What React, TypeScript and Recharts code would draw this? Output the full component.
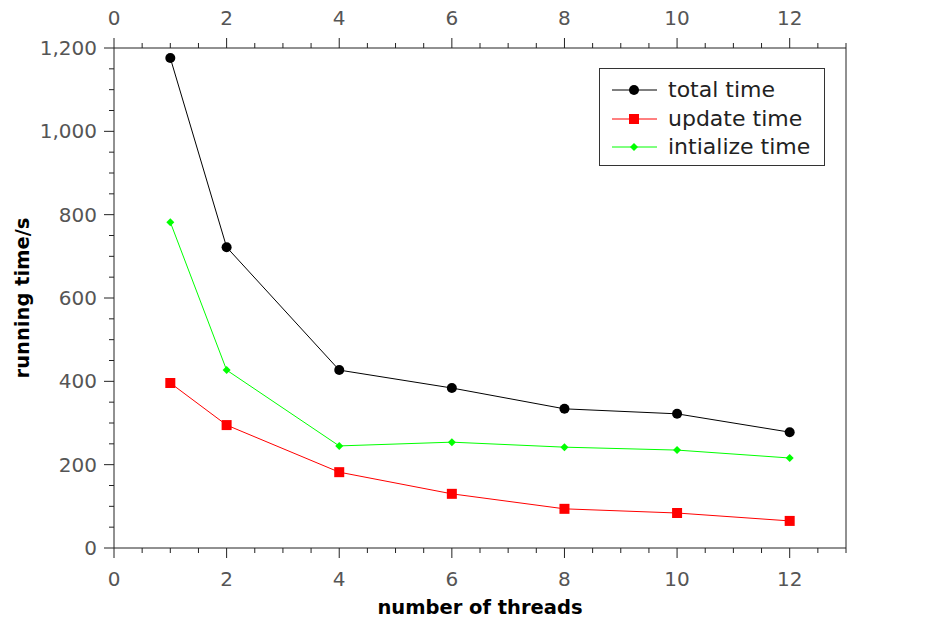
import React from 'react';
import { LineChart, Line, XAxis, YAxis } from 'recharts';

const threads = [1, 2, 4, 6, 8, 10, 12];
const totalTime = [1176, 722, 427, 384, 334, 322, 278];
const updateTime = [396, 295, 182, 130, 94, 84, 65];
const initTime = [782, 427, 245, 254, 242, 235, 216];

const xTicks = Array.from({ length: 27 }, (_, i) => i * 0.5);
const yTicks = Array.from({ length: 25 }, (_, i) => i * 50);

const data = threads.map((t, i) => ({
  threads: t,
  total: totalTime[i],
  update: updateTime[i],
  init: initTime[i],
}));

const FONT = '"DejaVu Sans", sans-serif';
const LABEL_COLOR = '#555';
const AXIS_COLOR = '#222';

type Side = 'top' | 'bottom' | 'left' | 'right';

function makeTick(side: Side) {
  return (props: any) => {
    const { x, y, payload } = props;
    const v = Number(payload.value);
    const major = side === 'top' || side === 'bottom' ? v % 2 === 0 : v % 200 === 0;
    const len = major ? 10 : 5;
    const txt = major ? v.toLocaleString('en-US') : '';
    if (side === 'bottom') {
      return (
        <g>
          <line x1={x} x2={x} y1={y} y2={y + len} stroke={AXIS_COLOR} />
          {major && <text x={x} y={y + 38} textAnchor="middle" fontSize={20} fontFamily={FONT} fill={LABEL_COLOR}>{txt}</text>}
        </g>
      );
    }
    if (side === 'top') {
      return (
        <g>
          <line x1={x} x2={x} y1={y} y2={y - len} stroke={AXIS_COLOR} />
          {major && <text x={x} y={y - 23} textAnchor="middle" fontSize={20} fontFamily={FONT} fill={LABEL_COLOR}>{txt}</text>}
        </g>
      );
    }
    if (side === 'left') {
      return (
        <g>
          <line x1={x} x2={x - len} y1={y} y2={y} stroke={AXIS_COLOR} />
          {major && <text x={x - 17} y={y + 7} textAnchor="end" fontSize={20} fontFamily={FONT} fill={LABEL_COLOR}>{txt}</text>}
        </g>
      );
    }
    return (
      <g>
        <line x1={x} x2={x + len} y1={y} y2={y} stroke={AXIS_COLOR} />
        {major && <text x={x + 15} y={y + 7} textAnchor="start" fontSize={20} fontFamily={FONT} fill={LABEL_COLOR}>{txt}</text>}
      </g>
    );
  };
}

const CircleDot = (props: any) => {
  const { cx, cy, index } = props;
  return <circle key={`c${index}`} cx={cx} cy={cy} r={5} fill="#000" />;
};

const SquareDot = (props: any) => {
  const { cx, cy, index } = props;
  return <rect key={`s${index}`} x={cx - 5} y={cy - 5} width={10} height={10} fill="#ff0000" />;
};

const DiamondDot = (props: any) => {
  const { cx, cy, index } = props;
  return <path key={`d${index}`} d={`M${cx},${cy - 4}L${cx + 4},${cy}L${cx},${cy + 4}L${cx - 4},${cy}Z`} fill="#00ff00" />;
};

const YTitle = (props: any) => {
  const vb = props.viewBox || { x: 0, y: 48, width: 114, height: 500 };
  const cy = vb.y + vb.height / 2;
  return (
    <text x={29} y={cy} transform={`rotate(-90, 29, ${cy})`} textAnchor="middle" fontSize={19.5} fontWeight="bold" fontFamily={FONT} fill="#000">
      running time/s
    </text>
  );
};

const XTitle = (props: any) => {
  const vb = props.viewBox || { x: 114, y: 548, width: 732, height: 72 };
  return (
    <text x={vb.x + vb.width / 2} y={vb.y + 66} textAnchor="middle" fontSize={19.5} fontWeight="bold" fontFamily={FONT} fill="#000">
      number of threads
    </text>
  );
};

const legendItems = [
  { name: 'total time', color: '#000', marker: 'circle' },
  { name: 'update time', color: '#ff0000', marker: 'square' },
  { name: 'intialize time', color: '#00ff00', marker: 'diamond' },
];

function LegendBox() {
  return (
    <div
      style={{
        position: 'absolute',
        left: 599,
        top: 68,
        width: 224,
        height: 96,
        border: '1px solid #333',
        background: '#fff',
        boxSizing: 'content-box',
      }}
    >
      {legendItems.map((it, i) => (
        <div key={it.name} style={{ position: 'absolute', left: 0, top: 7 + i * 28.5, height: 28, display: 'flex', alignItems: 'center' }}>
          <svg width={68} height={28} style={{ display: 'block' }}>
            <line x1={12} x2={57} y1={14} y2={14} stroke={it.color} strokeWidth={1} />
            {it.marker === 'circle' && <circle cx={34} cy={14} r={5} fill={it.color} />}
            {it.marker === 'square' && <rect x={29} y={9} width={10} height={10} fill={it.color} />}
            {it.marker === 'diamond' && <path d="M34,10L38,14L34,18L30,14Z" fill={it.color} />}
          </svg>
          <span style={{ fontFamily: FONT, fontSize: 22, color: '#222', lineHeight: '28px', whiteSpace: 'nowrap' }}>{it.name}</span>
        </div>
      ))}
    </div>
  );
}

export default function App() {
  return (
    <div style={{ position: 'relative', width: 934, height: 620, margin: '-8px 0 0 -8px' }}>
      <LineChart width={934} height={620} data={data} margin={{ top: 0, right: 0, bottom: 0, left: 0 }}>
        <XAxis
          xAxisId="bottom"
          dataKey="threads"
          type="number"
          orientation="bottom"
          domain={[0, 13]}
          ticks={xTicks}
          interval={0}
          height={72}
          tickSize={0}
          tickMargin={0}
          tickLine={false}
          axisLine={{ stroke: AXIS_COLOR }}
          tick={makeTick('bottom')}
          label={<XTitle />}
        />
        <XAxis
          xAxisId="top"
          dataKey="threads"
          type="number"
          orientation="top"
          domain={[0, 13]}
          ticks={xTicks}
          interval={0}
          height={48}
          tickSize={0}
          tickMargin={0}
          tickLine={false}
          axisLine={{ stroke: AXIS_COLOR }}
          tick={makeTick('top')}
        />
        <YAxis
          yAxisId="left"
          type="number"
          orientation="left"
          domain={[0, 1200]}
          ticks={yTicks}
          interval={0}
          width={114}
          tickSize={0}
          tickMargin={0}
          tickLine={false}
          axisLine={{ stroke: AXIS_COLOR }}
          tick={makeTick('left')}
          label={<YTitle />}
        />
        <YAxis
          yAxisId="right"
          type="number"
          orientation="right"
          domain={[0, 1200]}
          ticks={yTicks}
          interval={0}
          width={88}
          tickSize={0}
          tickMargin={0}
          tickLine={false}
          axisLine={{ stroke: AXIS_COLOR }}
          tick={makeTick('right')}
        />
        <Line xAxisId="bottom" yAxisId="left" dataKey="total" stroke="#000" strokeWidth={1} dot={CircleDot} activeDot={false} isAnimationActive={false} />
        <Line xAxisId="bottom" yAxisId="left" dataKey="update" stroke="#ff0000" strokeWidth={1} dot={SquareDot} activeDot={false} isAnimationActive={false} />
        <Line xAxisId="bottom" yAxisId="left" dataKey="init" stroke="#00ff00" strokeWidth={1} dot={DiamondDot} activeDot={false} isAnimationActive={false} />
      </LineChart>
      <LegendBox />
    </div>
  );
}
